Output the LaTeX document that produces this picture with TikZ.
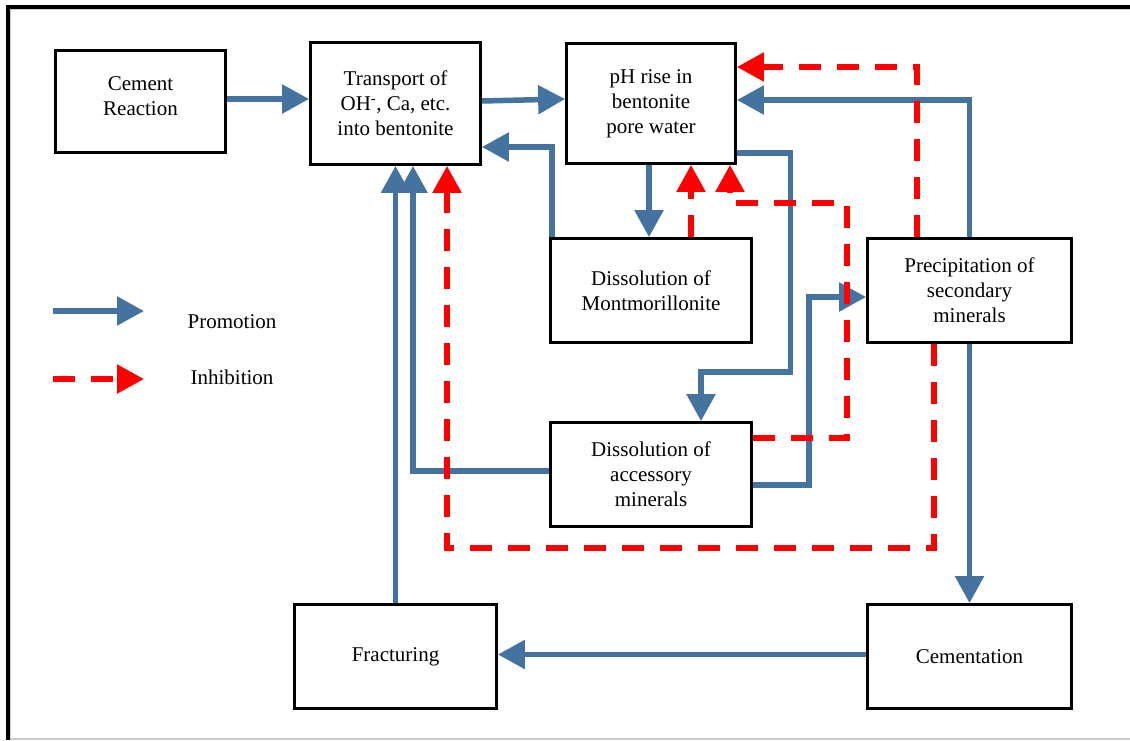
\documentclass[tikz,border=0pt]{standalone}
\usepackage{fontspec}
\setmainfont{Liberation Serif}
\usepackage{xcolor}
\usetikzlibrary{arrows.meta}
\definecolor{promoblue}{RGB}{68,115,160}

\begin{document}
\begin{tikzpicture}[x=1pt,y=-1pt,font=\fontsize{21}{25}\selectfont,
  box/.style={draw,line width=2.8pt,align=center,inner sep=0pt},
  promo/.style={draw=promoblue,line width=5.5pt,-{Triangle[length=27pt,width=28pt]},promoblue},
  inhib/.style={draw=red,line width=5.5pt,dash pattern=on 22pt off 16pt,-{Triangle[length=27pt,width=28pt]},red}]
  \useasboundingbox (0,0) rectangle (1130,740);
  % frame
  \draw[line width=4pt] (8,740) -- (8,7) -- (1130,7);
  \draw[black!20,line width=1pt] (10.5,740) -- (10.5,9.5) -- (1130,9.5);
  \draw[black!20,line width=1.5pt] (10.5,739) -- (1130,739);
  % boxes
  \node[box,minimum width=170pt,minimum height=102pt,text depth=10pt] (cem) at (140.5,101.5) {Cement\\Reaction};
  \node[box,minimum width=170pt,minimum height=122pt] (trans) at (395.5,103.5) {Transport of\\OH\textsuperscript{-}, Ca, etc.\\into bentonite};
  \node[box,minimum width=169pt,minimum height=120pt] (ph) at (651,103.5) {pH rise in\\bentonite\\pore water};
  \node[box,minimum width=201pt,minimum height=104pt] (mont) at (651,290.5) {Dissolution of\\Montmorillonite};
  \node[box,minimum width=201pt,minimum height=104pt] (acc) at (651,474.5) {Dissolution of\\accessory\\minerals};
  \node[box,minimum width=204pt,minimum height=104pt] (prec) at (969.5,290.5) {Precipitation of\\secondary\\minerals};
  \node[box,minimum width=204pt,minimum height=104pt] (cemt) at (969.5,656.5) {Cementation};
  \node[box,minimum width=202pt,minimum height=104pt] (frac) at (395.5,656.5) {Fracturing};
  % promotion
  \draw[promo] ([yshift=2.5pt]cem.east) -- ([yshift=2.5pt]cem.east -| trans.west);
  \draw[promo] ([yshift=2.5pt]trans.east) -- ([yshift=4.5pt]ph.west);
  \draw[promo] ([xshift=3pt]mont.north west) |- ([yshift=-43.5pt]trans.east);
  \draw[promo] ([xshift=-2pt]ph.south) -- ([xshift=-2pt]mont.north);
  \draw[promo] ([yshift=-49.5pt]ph.east) -| ++(53.5,219) -| ([xshift=50pt]acc.north);
  \draw[promo] ([yshift=-10.5pt]acc.east) -- ++(56,0) |- ([yshift=-6.5pt]prec.west);
  \draw[promo] (prec.north) |- ([yshift=3.5pt]ph.east);
  \draw[promo] (prec.south) -- (cemt.north);
  \draw[promo] ([yshift=2pt]cemt.west) -- ([yshift=2pt]frac.east);
  \draw[promo] (frac.north) -- (trans.south);
  \draw[promo] ([yshift=3.5pt]acc.west) -| ([xshift=17.5pt]trans.south);
  % inhibition
  \draw[inhib] ([xshift=40pt]mont.north) -- ([xshift=40pt]ph.south);
  \draw[inhib] ([yshift=36.5pt]acc.east) -- ++(94,0) -- ++(0,-235) -| ([xshift=79pt]ph.south);
  \draw[inhib] ([xshift=-52.5pt]prec.north) |- ([yshift=36.5pt]ph.east);
  \draw[inhib] ([xshift=-35.5pt]prec.south) -- ++(0,204) -| ([xshift=51.5pt]trans.south);
  % legend
  \coordinate (promokey) at (53,311);
  \coordinate (inhibkey) at (53,379);
  \draw[promo] (promokey) -- ++(91,0);
  \draw[inhib] (inhibkey) -- ++(91,0);
  \node[anchor=base] (promolbl) at (232,328) {Promotion};
  \node[anchor=base] (inhiblbl) at (232,384) {Inhibition};
\end{tikzpicture}
\end{document}
